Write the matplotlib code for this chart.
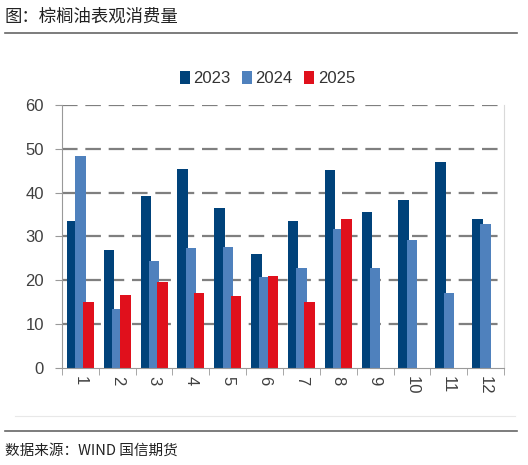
import matplotlib
matplotlib.use("Agg")
import matplotlib.pyplot as plt
import numpy as np

months = ["1", "2", "3", "4", "5", "6", "7", "8", "9", "10", "11", "12"]
v2023 = [33.5, 26.9, 39.2, 45.4, 36.4, 26.0, 33.5, 45.1, 35.7, 38.4, 47.1, 34.1]
v2024 = [48.3, 13.4, 24.5, 27.4, 27.6, 20.7, 22.8, 31.7, 22.9, 29.1, 17.1, 32.9]
v2025 = [15.0, 16.6, 19.7, 17.1, 16.5, 20.9, 15.0, 33.9]
series_names = ["2023", "2024", "2025"]
colors = ["#00427a", "#4f81bd", "#e0101c"]
yticks = [0, 10, 20, 30, 40, 50, 60]

plt.rcParams['font.family'] = ['Liberation Sans', 'Noto Sans CJK SC', 'DejaVu Sans']

fig = plt.figure(figsize=(5.28, 4.65), dpi=100)
ax = fig.add_axes([62/528, 1-368/465, (504-62)/528, (368-105)/465])

x = np.arange(len(months))
w = 0.285
off = 0.225
data = [v2023, v2024, v2025]
for i, (vals, c, name) in enumerate(zip(data, colors, series_names)):
    xs = x[:len(vals)] + (i - 1) * off
    ax.bar(xs, vals, width=w, color=c, label=name, zorder=3 + i)

ax.set_xlim(-0.5, len(months) - 0.5)
ax.set_ylim(0, 60)
ax.set_yticks(yticks)
ax.set_yticklabels([str(t) for t in yticks], fontsize=12, color="#404040")
ax.set_xticks(x)
ax.set_xticklabels(months, rotation=270, fontsize=12, color="#404040")
ax.set_xticks(np.arange(-0.5, len(months) + 0.5, 1), minor=True)
ax.tick_params(axis='x', which='major', length=0, pad=6)
ax.tick_params(axis='x', which='minor', length=5, color="#999999", direction='out')
ax.tick_params(axis='y', length=5, color="#999999", direction='out', pad=8)

for t in yticks[1:]:
    ax.axhline(t, color="#7f7f7f", linewidth=1.6, linestyle=(0, (7, 3.5)), zorder=1)

ax.spines['top'].set_visible(False)
ax.spines['left'].set_color("#999999")
ax.spines['bottom'].set_color("#999999")
ax.spines['right'].set_color("#d9d9d9")
ax.spines['bottom'].set_zorder(10)

leg = ax.legend(loc='lower center', bbox_to_anchor=(0.465, 1.045), ncol=3, frameon=False,
                fontsize=12, handlelength=0.6, handleheight=0.8, handletextpad=0.2,
                columnspacing=0.7, borderaxespad=0)
for t in leg.get_texts():
    t.set_color("#333333")

# Header / footer
fig.text(5/528, 1-17/465, "图：棕榈油表观消费量", fontsize=12.5, family=['Noto Sans CJK SC'],
         color="#222222", va='center', ha='left')
fig.add_artist(plt.Line2D([5/528, 517/528], [1-33/465, 1-33/465], color="#666666", linewidth=1.2))
fig.add_artist(plt.Line2D([15/528, 515/528], [1-416/465, 1-416/465], color="#e8e8e8", linewidth=0.8))
fig.add_artist(plt.Line2D([5/528, 517/528], [1-431/465, 1-431/465], color="#666666", linewidth=1.2))
fig.text(5/528, 1-451/465, "数据来源：WIND 国信期货", fontsize=10.5, family=['Noto Sans CJK SC'],
         color="#222222", va='center', ha='left')

fig.savefig("out.png", dpi=100)
